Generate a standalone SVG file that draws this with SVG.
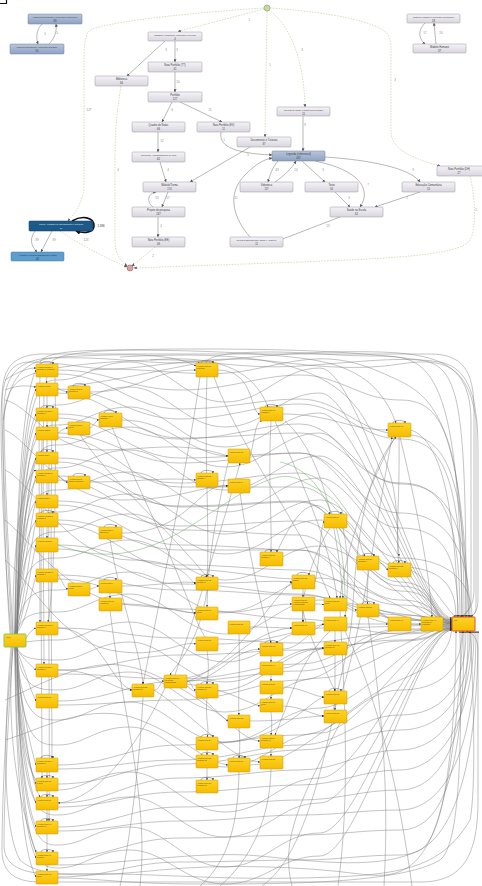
<svg xmlns="http://www.w3.org/2000/svg" width="482" height="886" viewBox="0 0 482 886">
<defs>
<linearGradient id="gBox" x1="0" y1="0" x2="0" y2="1"><stop offset="0" stop-color="#f5f3f7"/><stop offset="1" stop-color="#d9d6df"/></linearGradient>
<linearGradient id="gBlue" x1="0" y1="0" x2="0" y2="1"><stop offset="0" stop-color="#b8c6dc"/><stop offset="1" stop-color="#8fa2c2"/></linearGradient>
<linearGradient id="gYel" x1="0" y1="0" x2="0" y2="1"><stop offset="0" stop-color="#ffd426"/><stop offset="1" stop-color="#f5bc00"/></linearGradient>
<marker id="ah" viewBox="0 0 6 6" refX="5.5" refY="3" markerUnits="userSpaceOnUse" markerWidth="3" markerHeight="3" orient="auto"><path d="M0 0L6 3L0 6z" fill="#555"/></marker>
<marker id="as" viewBox="0 0 6 6" refX="5.5" refY="3" markerUnits="userSpaceOnUse" markerWidth="2" markerHeight="2" orient="auto"><path d="M0 0L6 3L0 6z" fill="#222"/></marker>
<marker id="ak" viewBox="0 0 6 6" refX="5" refY="3" markerUnits="userSpaceOnUse" markerWidth="5" markerHeight="5" orient="auto"><path d="M0 0L6 3L0 6z" fill="#111"/></marker>
</defs>
<style>
.n rect{fill:url(#gBox);stroke:#9a96a2;stroke-width:.5}
.nb rect{fill:url(#gBlue);stroke:#6d7f9c;stroke-width:.5}
.t{font-family:"Liberation Sans",Arial,sans-serif;font-size:2.6px;fill:#3a3a3a;text-anchor:middle}
.ts{font-family:"Liberation Sans",Arial,sans-serif;font-size:2.1px;fill:#3a3a3a;text-anchor:middle}
.tw{font-family:"Liberation Sans",Arial,sans-serif;font-size:2.1px;fill:#e8f0f8;text-anchor:middle}
.el{font-family:"Liberation Sans",Arial,sans-serif;font-size:3px;fill:#8c8c8c;text-anchor:middle}
.e{fill:none;stroke:#707070;stroke-width:.5;marker-end:url(#ah)}
.ed{fill:none;stroke:#c4c4a0;stroke-width:.6;stroke-dasharray:1.6 1.2;marker-end:url(#ah)}
.y rect{fill:url(#gYel);stroke:#c99a00;stroke-width:.5}
.y text{font-family:"Liberation Sans",Arial,sans-serif;font-size:1.9px;fill:#5e4a00}
.lp{fill:none;stroke:#444;stroke-width:.4;marker-end:url(#as)}
.c{fill:none;stroke:#7c7c7c;stroke-width:.45;marker-end:url(#as)}
.cn{fill:none;stroke:#7c7c7c;stroke-width:.45}
.cg{fill:none;stroke:#5aa25a;stroke-width:.45}
</style>
<rect width="482" height="886" fill="#fff"/>
<path d="M0 3.5H6.5V0" fill="none" stroke="#111" stroke-width="1.2"/>

<!-- ===== process map: connectors ===== -->
<g id="map-edges">
<path class="ed" d="M264 9L178 31.5"/>
<path class="ed" d="M267 11L265 137"/>
<path class="ed" d="M269 10C290 25 304 60 305 107"/>
<path class="ed" d="M264 8C200 12 120 20 92 29C86 32 84 40 84 60L84 185C84 200 76 212 68 221"/>
<path class="ed" d="M270 8C330 12 380 22 388 35C392 42 391 50 391 60L391 130C391 145 400 155 440 166"/>
<path class="ed" d="M121 86C117 110 115 130 115 160L115 240C115 255 121 261 127 266"/>
<path class="ed" d="M60 231C80 245 110 260 127 267"/>
<path class="ed" d="M155 247L132 266"/>
<path class="ed" d="M470 176C476 200 476 230 470 240C460 255 400 258 300 262L134 268"/>
<path class="e" d="M42 24C36 30 36 38 38 44"/>
<path class="e" d="M49 44C55 38 57 30 56 24"/>
<path class="e" d="M165 41L127 76"/>
<path class="e" d="M175 41L175 62"/>
<path class="e" d="M175 72L175 92"/>
<path class="e" d="M172 102L162 122"/>
<path class="e" d="M180 102L222 122"/>
<path class="e" d="M158 132L158 152"/>
<path class="e" d="M160 162L166 182"/>
<path class="e" d="M250 147L190 182"/>
<path class="e" d="M221 132C219 145 230 153 272 155"/>
<path class="e" d="M303 116L303 151"/>
<path class="e" d="M278 161C272 168 270 175 268 182"/>
<path class="e" d="M275 182C285 175 292 168 296 161"/>
<path class="e" d="M302 161L325 182"/>
<path class="e" d="M315 161C360 170 372 190 360 207"/>
<path class="e" d="M325 157C370 160 410 168 420 182"/>
<path class="e" d="M335 192L350 207"/>
<path class="e" d="M420 192L375 207"/>
<path class="e" d="M340 217L280 240"/>
<path class="e" d="M250 237C235 220 225 195 245 175C255 165 262 160 272 158"/>
<path class="e" d="M153 207C146 202 148 193 156 192"/>
<path class="e" d="M168 192L162 207"/>
<path class="e" d="M158 217L158 237"/>
<path class="e" d="M35 231C30 238 30 245 37 252"/>
<path class="e" d="M52 231L41 252"/>
<path class="e" d="M425 23C418 30 418 38 425 44"/>
<path class="e" d="M436 44L434 23"/>
<path d="M72 221C82 215 94 217 94 226C94 232 85 234 76 231" fill="none" stroke="#111" stroke-width="1.6" marker-end="url(#ak)"/>
<text class="el" x="249" y="21">1</text>
<text class="el" x="270" y="66">1</text>
<text class="el" x="302" y="51">3</text>
<text class="el" x="89" y="111">127</text>
<text class="el" x="395" y="81">3</text>
<text class="el" x="118" y="171">4</text>
<text class="el" x="86" y="241">123</text>
<text class="el" x="153" y="257">2</text>
<text class="el" x="476" y="211">1</text>
<text class="el" x="45" y="35">5</text>
<text class="el" x="57" y="34">5</text>
<text class="el" x="166" y="51">3</text>
<text class="el" x="177" y="51">3</text>
<text class="el" x="178" y="83">10</text>
<text class="el" x="172" y="111">6</text>
<text class="el" x="210" y="111">11</text>
<text class="el" x="162" y="142">12</text>
<text class="el" x="168" y="171">4</text>
<text class="el" x="248" y="156">5</text>
<text class="el" x="224" y="141">1</text>
<text class="el" x="305" y="126">8</text>
<text class="el" x="277" y="171">43</text>
<text class="el" x="296" y="171">54</text>
<text class="el" x="323" y="171">3</text>
<text class="el" x="368" y="186">7</text>
<text class="el" x="413" y="171">9</text>
<text class="el" x="349" y="199">3</text>
<text class="el" x="407" y="199">2</text>
<text class="el" x="328" y="227">15</text>
<text class="el" x="236" y="199">11</text>
<text class="el" x="157" y="199">53</text>
<text class="el" x="168" y="199">57</text>
<text class="el" x="161" y="227">4</text>
<text class="el" x="37" y="241">39</text>
<text class="el" x="54" y="241">39</text>
<text class="el" x="425" y="34">17</text>
<text class="el" x="441" y="34">20</text>
<text class="el" x="101" y="227" style="fill:#333;font-size:2.8px">1.386</text>
</g>

<!-- ===== process map: nodes ===== -->
<circle id="start" cx="267" cy="8" r="3" fill="#c9d9a2" stroke="#8a9a60" stroke-width=".6"/>
<circle id="end" cx="130" cy="268" r="3" fill="#d9a3a3" stroke="#a06060" stroke-width=".6"/>
<g id="n-mod1" class="nb"><rect x="28" y="14" width="54" height="10" rx="1"/><text class="ts" x="55" y="18.3">Modelos Matemáticos e conteúdos elementares</text><text class="t" x="55" y="22.3">69</text></g>
<g id="n-mod2" class="nb"><rect x="10" y="44" width="54" height="10" rx="1"/><text class="ts" x="37" y="48.3">Modelos Matemáticos: conteúdos aplicados</text><text class="t" x="37" y="52.3">55</text></g>
<g id="n-card" class="n"><rect x="148" y="32" width="54" height="9" rx="1"/><text class="ts" x="175" y="35.8">Cardápio/Atendimento: conteúdos e serviços</text><text class="t" x="175" y="39.6">4</text></g>
<g id="n-bib" class="n"><rect x="95" y="76" width="53" height="10" rx="1"/><text class="t" x="121.5" y="80.3">Biblioteca</text><text class="t" x="121.5" y="84.3">66</text></g>
<g id="n-tt" class="n"><rect x="148" y="62" width="54" height="10" rx="1"/><text class="t" x="175" y="66.3">Nota Portfólio (TT)</text><text class="t" x="175" y="70.3">41</text></g>
<g id="n-port" class="n"><rect x="148" y="92" width="54" height="10" rx="1"/><text class="t" x="175" y="96.3">Portfólio</text><text class="t" x="175" y="100.3">127</text></g>
<g id="n-quad" class="n"><rect x="132" y="122" width="53" height="10" rx="1"/><text class="t" x="158.5" y="126.3">Quadro de Notas</text><text class="t" x="158.5" y="130.3">66</text></g>
<g id="n-ev" class="n"><rect x="197" y="122" width="53" height="10" rx="1"/><text class="t" x="223.5" y="126.3">Nota Portfólio (EV)</text><text class="t" x="223.5" y="130.3">11</text></g>
<g id="n-sist" class="n"><rect x="132" y="152" width="53" height="10" rx="1"/><text class="ts" x="158.5" y="156.3">Sistema de Acompanhamento de TCC</text><text class="t" x="158.5" y="160.3">62</text></g>
<g id="n-turma" class="n"><rect x="143" y="182" width="53" height="10" rx="1"/><text class="t" x="169.5" y="186.3">Módulo/Turma</text><text class="t" x="169.5" y="190.3">174</text></g>
<g id="n-proj" class="n"><rect x="132" y="207" width="53" height="10" rx="1"/><text class="t" x="158.5" y="211.3">Projeto de pesquisa</text><text class="t" x="158.5" y="215.3">167</text></g>
<g id="n-ee" class="n"><rect x="132" y="237" width="53" height="10" rx="1"/><text class="t" x="158.5" y="241.3">Nota Portfólio (EE)</text><text class="t" x="158.5" y="245.3">46</text></g>
<g id="n-doc" class="n"><rect x="237" y="137" width="54" height="10" rx="1"/><text class="t" x="264" y="141.3">Documentos e Tutoriais</text><text class="t" x="264" y="145.3">37</text></g>
<g id="n-pol" class="n"><rect x="277" y="107" width="53" height="9" rx="1"/><text class="ts" x="303.5" y="110.8">Políticas de saúde e assistência estudantil</text><text class="t" x="303.5" y="114.6">11</text></g>
<g id="n-leg" class="nb"><rect x="272" y="151" width="53" height="10" rx="1"/><text class="t" x="298.5" y="155.3">Legenda (referencial)</text><text class="t" x="298.5" y="159.3">437</text></g>
<g id="n-vid" class="n"><rect x="240" y="182" width="53" height="10" rx="1"/><text class="t" x="266.5" y="186.3">Videoteca</text><text class="t" x="266.5" y="190.3">117</text></g>
<g id="n-txt" class="n"><rect x="305" y="182" width="53" height="10" rx="1"/><text class="t" x="331.5" y="186.3">Texto</text><text class="t" x="331.5" y="190.3">50</text></g>
<g id="n-edu" class="n"><rect x="402" y="182" width="53" height="10" rx="1"/><text class="t" x="428.5" y="186.3">Educação Comunitária</text><text class="t" x="428.5" y="190.3">15</text></g>
<g id="n-sau" class="n"><rect x="330" y="207" width="53" height="10" rx="1"/><text class="t" x="356.5" y="211.3">Saúde na Escola</text><text class="t" x="356.5" y="215.3">62</text></g>
<g id="n-rec" class="n"><rect x="230" y="237" width="53" height="10" rx="1"/><text class="ts" x="256.5" y="241.3">Recursos Educacionais: Saúde e Ambiente</text><text class="t" x="256.5" y="245.3">11</text></g>
<g id="n-dh" class="n"><rect x="437" y="166" width="50" height="10" rx="1"/><text class="t" x="459" y="170.3">Nota Portfólio (DH)</text><text class="t" x="459" y="174.3">27</text></g>
<g id="n-hum1" class="n"><rect x="407" y="14" width="53" height="9" rx="1"/><text class="ts" x="433.5" y="17.8">Modelos Humanos e conteúdos elementares</text><text class="t" x="433.5" y="21.6">18</text></g>
<g id="n-hum2" class="n"><rect x="413" y="44" width="53" height="9" rx="1"/><text class="t" x="439.5" y="47.8">Modelo Humano</text><text class="t" x="439.5" y="51.6">37</text></g>
<g id="n-forum"><rect x="29" y="221" width="64" height="10" rx="1" fill="#1d5a8a" stroke="#0f3a60" stroke-width=".5"/><text class="tw" x="61" y="225.3">Fórum: Atividades de aprendizagem e conteúdo</text><text class="tw" x="61" y="229.3">10</text></g>
<g id="n-ativ"><rect x="11" y="252" width="53" height="9" rx="1" fill="#5f9dcc" stroke="#3d78a8" stroke-width=".5"/><text class="ts" x="37.5" y="255.8" style="fill:#14324e">Atividades: Recursos Educativos e Saúde</text><text class="t" x="37.5" y="259.6" style="fill:#14324e">40</text></g>

<!-- ===== activity flow: connectors ===== -->
<g id="flow-edges">
<!-- fan out of the start activity -->
<path class="c" d="M15 634C15 560 20 400 36 370"/>
<path class="c" d="M15 634C15 580 20 420 36 389"/>
<path class="c" d="M15 634C15 590 22 440 36 414"/>
<path class="c" d="M15 634C16 600 24 460 36 433"/>
<path class="c" d="M15 634C16 610 26 480 36 458"/>
<path class="c" d="M15 634C17 615 28 500 36 476"/>
<path class="c" d="M15 634C18 620 30 520 36 501"/>
<path class="c" d="M15 634C20 625 32 540 36 520"/>
<path class="c" d="M15 634C22 628 32 560 36 545"/>
<path class="c" d="M15 634C24 630 32 590 36 575"/>
<path class="c" d="M26 638C30 632 33 629 36 628"/>
<path class="c" d="M15 647C20 655 30 665 36 670"/>
<path class="c" d="M15 647C22 660 30 690 36 701"/>
<path class="c" d="M15 647C18 680 28 740 36 765"/>
<path class="c" d="M15 647C17 690 26 760 36 784"/>
<path class="c" d="M15 647C16 700 26 780 36 803"/>
<path class="c" d="M15 647C16 710 24 800 36 827"/>
<path class="c" d="M15 647C15 720 22 830 36 858"/>
<path class="c" d="M15 647C15 730 20 850 36 877"/>
<path class="c" d="M17 634C20 560 28 470 40 452"/>
<path class="c" d="M13 634C12 560 20 480 36 470"/>
<path class="c" d="M17 647C22 720 30 780 40 797"/>
<path class="c" d="M13 647C8 700 10 780 36 852"/>
<!-- arcs over the top and under the bottom -->
<path class="c" d="M12 634C6 540 2 440 2 400C2 370 10 356 40 354L430 354C462 354 474 370 474 410L474 590C474 605 468 612 462 617"/>
<path class="c" d="M13 634C8 550 4 460 4 410C4 380 14 360 50 358C120 356 150 366 200 362S300 350 380 352C450 354 470 372 471 420L471 600C471 608 466 614 460 617"/>
<path class="c" d="M10 634C5 560 3 480 3 440C3 410 6 390 20 380C40 366 100 362 150 360S240 370 300 366S400 356 440 362C470 368 478 400 478 450L478 600C478 610 474 615 470 617"/>
<path class="c" d="M11 634C4 550 1 470 1 420C1 380 8 362 30 362C70 362 90 372 130 368S220 356 260 360S350 372 400 364C440 358 468 362 476 420L476 610C476 614 472 616 468 617"/>
<path class="c" d="M5 380C20 370 30 368 36 368"/>
<path class="c" d="M5 390C20 384 30 386 36 387"/>
<path class="c" d="M3 420C10 380 20 360 60 357C120 354 170 352 196 366"/>
<path class="c" d="M40 364C40 355 60 350 120 350S250 352 300 358S380 380 396 423"/>
<path class="c" d="M50 364C55 352 100 349 200 349S360 352 420 360C460 366 466 400 466 617"/>
<path class="c" d="M206 363C206 356 230 352 270 352S330 356 380 356C430 356 460 370 462 617"/>
<path class="c" d="M150 360C200 356 250 360 268 407"/>
<path class="c" d="M120 357C250 350 330 360 365 420S395 500 399 556"/>
<path class="c" d="M70 386C120 380 160 370 200 363"/>
<path class="c" d="M90 370C150 366 200 380 250 370S330 350 380 372S460 400 469 617"/>
<path class="c" d="M12 647C6 720 2 800 2 850C2 870 12 882 40 882L420 882C460 882 478 860 478 800L478 650C478 638 472 632 466 631"/>
<path class="c" d="M13 647C8 720 4 800 4 845C4 865 20 875 60 874C150 872 200 880 300 878S440 870 470 820C476 790 474 700 470 631"/>
<path class="c" d="M58 878C100 878 120 884 200 884S400 884 440 860C460 845 462 750 460 631"/>
<path class="c" d="M58 865C120 865 200 850 260 856S380 870 420 850C450 835 456 700 456 631"/>
<path class="c" d="M11 647C3 740 3 830 20 860C40 880 100 876 160 870S300 866 360 874S450 860 463 631"/>
<!-- long waves towards the final activity -->
<path class="c" d="M58 370C110 370 130 390 180 390S260 375 300 375S360 400 400 400C440 400 464 430 464 617"/>
<path class="c" d="M58 374C110 374 130 409 180 409S260 399 300 399S360 434 400 434C440 434 466 460 466 617"/>
<path class="c" d="M58 389C110 389 130 419 180 419S260 404 300 404S360 439 400 439C440 439 462 470 462 617"/>
<path class="c" d="M58 393C110 393 130 438 180 438S260 433 300 433S360 483 400 483C440 483 460 510 460 617"/>
<path class="c" d="M58 414C110 414 130 439 180 439S260 424 300 424S360 484 400 484C440 484 468 510 468 617"/>
<path class="c" d="M58 418C110 418 130 458 180 458S260 453 300 453S360 528 400 528C440 528 458 550 458 617"/>
<path class="c" d="M58 433C110 433 130 463 180 463S260 453 300 453S360 513 400 513C440 513 470 540 470 617"/>
<path class="c" d="M58 437C110 437 130 487 180 487S260 487 300 487S360 567 400 567C440 567 456 585 456 617"/>
<path class="c" d="M58 458C110 458 130 483 180 483S260 473 300 473S360 558 400 558C440 558 472 575 472 617"/>
<path class="c" d="M58 462C110 462 130 507 180 507S260 502 300 502S360 582 400 582S430 622 452 622"/>
<path class="c" d="M58 476C110 476 130 506 180 506S260 501 300 501S360 586 400 586S430 624 452 624"/>
<path class="c" d="M58 480C110 480 130 530 180 530S260 535 300 535S360 620 400 620S430 626 452 626"/>
<path class="c" d="M58 501C110 501 130 526 180 526S260 521 300 521S360 591 400 591S430 620 452 620"/>
<path class="c" d="M58 505C110 505 130 545 180 545S260 550 300 550S360 620 400 620S430 623 452 623"/>
<path class="c" d="M58 520C110 520 130 550 180 550S260 550 300 550S360 600 400 600S430 621 452 621"/>
<path class="c" d="M58 524C110 524 130 569 180 569S260 579 300 579S360 619 400 619S430 625 452 625"/>
<path class="c" d="M58 545C110 545 130 565 180 565S260 570 300 570S360 605 400 605S430 622 452 622"/>
<path class="c" d="M58 549C110 549 130 584 180 584S260 594 300 594S360 624 400 624S430 627 452 627"/>
<path class="c" d="M58 575C110 575 130 590 180 590S260 595 300 595S360 615 400 615S430 623 452 623"/>
<path class="c" d="M58 579C110 579 130 609 180 609S260 619 300 619S360 634 400 634S430 628 452 628"/>
<path class="c" d="M58 628C110 628 130 638 180 638S260 643 300 643S360 633 400 633S430 626 452 626"/>
<path class="c" d="M58 670C110 670 130 655 180 655S260 650 300 650S360 640 400 640S430 629 452 629"/>
<path class="c" d="M58 674C110 674 130 679 180 679S260 664 300 664S360 629 400 629S430 628 452 628"/>
<path class="c" d="M58 701C110 701 130 681 180 681S260 671 300 671S360 641 400 641S430 630 452 630"/>
<path class="c" d="M58 705C110 705 130 700 180 700S260 680 300 680S360 630 400 630S430 629 452 629"/>
<path class="c" d="M58 765C110 765 130 745 180 745S260 735 300 735S360 690 400 690C440 690 462 670 462 631"/>
<path class="c" d="M58 769C110 769 130 760 180 760S260 745 300 745S360 715 400 715C440 715 466 690 466 631"/>
<path class="c" d="M58 784C110 784 130 764 180 764S260 750 300 750S360 730 400 730C440 730 470 700 470 631"/>
<path class="c" d="M58 803C110 803 130 778 180 778S260 770 300 770S360 750 400 750C440 750 472 710 472 631"/>
<path class="c" d="M58 807C110 807 130 792 180 792S260 785 300 785S360 770 400 770C440 770 474 720 474 631"/>
<path class="c" d="M58 827C110 827 130 807 180 807S260 800 300 800S360 790 400 790C440 790 468 740 468 631"/>
<path class="c" d="M58 831C110 831 130 821 180 821S260 815 300 815S360 810 400 810C440 810 476 760 476 631"/>
<path class="c" d="M58 858C110 858 130 838 180 838S260 835 300 835S360 830 400 830C440 830 464 780 464 631"/>
<path class="c" d="M58 877C110 877 130 862 180 862S260 860 300 860S360 855 400 855C440 855 478 800 478 631"/>
<!-- second family of waves out of the start activity -->
<path class="c" d="M17 634C20 380 40 380 58 380C85 380 95 362 130 362S185 402 225 402S280 368 320 368S420 618 452 618"/>
<path class="c" d="M17 634C20 405 40 405 58 405C85 405 95 387 130 387S185 427 225 427S280 393 320 393S420 619 452 619"/>
<path class="c" d="M17 634C20 425 40 425 58 425C85 425 95 407 130 407S185 447 225 447S280 413 320 413S420 620 452 620"/>
<path class="c" d="M17 634C20 445 40 445 58 445C85 445 95 427 130 427S185 467 225 467S280 433 320 433S420 621 452 621"/>
<path class="c" d="M17 634C20 468 40 468 58 468C85 468 95 450 130 450S185 490 225 490S280 456 320 456S420 622 452 622"/>
<path class="c" d="M17 634C20 490 40 490 58 490C85 490 95 472 130 472S185 512 225 512S280 478 320 478S420 622 452 622"/>
<path class="c" d="M17 634C20 512 40 512 58 512C85 512 95 494 130 494S185 534 225 534S280 500 320 500S420 623 452 623"/>
<path class="c" d="M17 634C20 532 40 532 58 532C85 532 95 514 130 514S185 554 225 554S280 520 320 520S420 623 452 623"/>
<path class="c" d="M17 634C20 558 40 558 58 558C85 558 95 540 130 540S185 580 225 580S280 546 320 546S420 624 452 624"/>
<path class="c" d="M17 634C20 590 40 590 58 590C85 590 95 572 130 572S185 612 225 612S280 578 320 578S420 624 452 624"/>
<path class="c" d="M17 634C20 612 40 612 58 612C85 612 95 594 130 594S185 634 225 634S280 600 320 600S420 625 452 625"/>
<path class="c" d="M26 642C40 640 50 640 58 640C85 640 95 622 130 622S185 662 225 662S280 628 320 628S420 625 452 625"/>
<path class="c" d="M17 647C20 660 40 660 58 660C85 660 95 642 130 642S185 682 225 682S280 648 320 648S420 626 452 626"/>
<path class="c" d="M17 647C20 690 40 690 58 690C85 690 95 672 130 672S185 712 225 712S280 678 320 678S420 627 452 627"/>
<path class="c" d="M17 647C20 720 40 720 58 720C85 720 95 702 130 702S185 742 225 742S280 708 320 708S420 628 452 628"/>
<path class="c" d="M17 647C20 745 40 745 58 745C85 745 95 727 130 727S185 767 225 767S280 733 320 733S420 628 452 628"/>
<path class="c" d="M17 647C20 790 40 790 58 790C85 790 95 772 130 772S185 812 225 812S280 778 320 778S420 629 452 629"/>
<path class="c" d="M17 647C20 815 40 815 58 815C85 815 95 797 130 797S185 837 225 837S280 803 320 803S420 629 452 629"/>
<path class="c" d="M17 647C20 845 40 845 58 845C85 845 95 827 130 827S185 867 225 867S280 833 320 833S420 630 452 630"/>
<path class="c" d="M17 647C20 868 40 868 58 868C85 868 95 850 130 850S185 884 225 884S280 856 320 856S420 630 452 630"/>
<!-- waves from the left margin -->
<path class="c" d="M5 400C30 405 50 450 100 450S180 440 228 456"/>
<path class="c" d="M5 430C30 440 60 500 120 500S200 486 228 486"/>
<path class="c" d="M5 470C30 480 70 560 130 560S190 585 196 583"/>
<path class="c" d="M5 520C30 540 70 600 130 605S180 612 196 613"/>
<path class="c" d="M5 560C30 580 60 640 110 650S180 640 196 644"/>
<path class="c" d="M5 700C30 690 80 660 120 665S200 700 228 721"/>
<path class="c" d="M5 740C40 730 90 700 140 720S200 760 228 765"/>
<!-- links between neighbouring activities -->
<path class="c" d="M90 392C140 392 150 370 196 370"/>
<path class="c" d="M90 428C94 426 96 420 99 420"/>
<path class="c" d="M122 420C170 420 190 455 228 456"/>
<path class="c" d="M90 482C140 482 160 477 196 480"/>
<path class="c" d="M122 533C190 533 200 480 228 486"/>
<path class="c" d="M90 589C95 588 97 586 99 586"/>
<path class="c" d="M122 586C160 586 180 580 196 583"/>
<path class="c" d="M122 604C160 604 180 613 196 613"/>
<path class="c" d="M58 389C62 390 65 392 68 392"/>
<path class="c" d="M58 433C62 430 64 428 68 428"/>
<path class="c" d="M58 476C62 478 65 482 68 482"/>
<path class="c" d="M58 575C62 580 64 588 68 589"/>
<path class="c" d="M218 370C255 370 250 414 260 414"/>
<path class="c" d="M250 456C255 440 255 420 262 421"/>
<path class="c" d="M283 414C330 414 350 430 388 430"/>
<path class="c" d="M218 583C250 583 270 580 292 582"/>
<path class="c" d="M218 613C250 613 270 604 292 604"/>
<path class="c" d="M250 627C270 627 280 628 292 628"/>
<path class="c" d="M315 582C320 560 320 530 324 521"/>
<path class="c" d="M315 604C318 604 322 604 324 605"/>
<path class="c" d="M347 521C360 530 360 550 365 556"/>
<path class="c" d="M379 563C384 563 386 568 388 570"/>
<path class="c" d="M347 605C350 606 354 610 357 610"/>
<path class="c" d="M347 624C360 624 375 624 388 624"/>
<path class="c" d="M411 624C415 624 418 624 421 624"/>
<path class="c" d="M443 624C446 624 449 624 452 624"/>
<path class="c" d="M379 610C400 615 440 618 452 620"/>
<path class="c" d="M411 570C430 580 440 600 455 617"/>
<path class="c" d="M411 430C440 440 455 500 458 617"/>
<path class="c" d="M58 628C100 628 110 684 132 690"/>
<path class="c" d="M58 670C100 670 110 690 132 690"/>
<path class="c" d="M154 690C160 690 160 681 164 681"/>
<path class="c" d="M187 681C192 681 192 690 196 690"/>
<path class="c" d="M187 681C220 681 230 650 260 649"/>
<path class="c" d="M187 678C230 670 250 630 292 628"/>
<path class="c" d="M187 684C230 690 240 700 260 706"/>
<path class="c" d="M187 686C220 710 240 740 260 741"/>
<path class="c" d="M187 682C240 660 270 600 292 582"/>
<path class="c" d="M154 690C200 720 230 760 260 762"/>
<path class="c" d="M218 644C260 644 300 630 324 624"/>
<path class="c" d="M218 691C260 691 280 650 324 648"/>
<path class="c" d="M218 743C280 743 310 700 324 697"/>
<path class="c" d="M250 721C290 721 310 716 324 716"/>
<path class="c" d="M250 765C300 765 350 700 400 680S450 640 452 628"/>
<path class="c" d="M283 649C300 649 310 630 324 624"/>
<path class="c" d="M283 668C300 668 310 650 324 648"/>
<path class="c" d="M283 687C300 687 315 697 324 697"/>
<path class="c" d="M283 706C300 706 315 716 324 716"/>
<!-- long vertical runs -->
<path class="c" d="M207 377C204 450 210 540 207 577"/>
<path class="c" d="M271 421C268 480 272 520 271 552"/>
<path class="c" d="M200 377C190 450 160 600 143 684"/>
<path class="cn" d="M340 611C345 700 350 800 338 886"/>
<path class="cn" d="M336 704C320 780 300 860 262 886"/>
<path class="c" d="M399 437C400 500 395 540 399 563"/>
<path class="c" d="M395 437C360 500 345 560 340 598"/>
<path class="cn" d="M110 610C120 700 150 800 140 886"/>
<path class="cn" d="M143 697C140 760 130 840 120 886"/>
<path class="c" d="M175 675C200 600 230 500 240 463"/>
<path class="c" d="M271 566C290 520 310 490 330 514"/>
<path class="c" d="M303 611C310 640 330 680 335 691"/>
<path class="cn" d="M340 723C300 800 280 840 292 886"/>
<path class="c" d="M165 688C140 740 100 800 58 803"/>
<path class="c" d="M330 631C300 660 290 700 275 735"/>
<path class="cn" d="M345 631C380 700 400 800 412 886"/>
<path class="cn" d="M368 617C380 700 390 780 384 886"/>
<path class="c" d="M214 377C240 450 300 520 330 598"/>
<path class="c" d="M275 421C300 480 330 540 337 598"/>
<path class="c" d="M400 437C420 520 430 580 432 617"/>
<path class="c" d="M330 528C310 560 300 600 303 622"/>
<path class="c" d="M343 528C350 560 348 590 345 617"/>
<path class="c" d="M110 540C120 600 140 650 143 684"/>
<path class="c" d="M112 427C130 470 160 530 180 580S205 640 207 637"/>
<path class="c" d="M80 435C110 480 160 520 207 577"/>
<path class="c" d="M207 651C210 670 207 680 207 684"/>
<path class="c" d="M207 698C205 720 210 730 207 737"/>
<path class="c" d="M207 750C207 752 207 753 207 755"/>
<path class="c" d="M207 768C207 772 207 776 207 780"/>
<path class="c" d="M239 634C240 670 238 700 239 715"/>
<path class="c" d="M239 728C240 740 240 750 239 758"/>
<path class="c" d="M271 656C271 658 271 660 271 662"/>
<path class="c" d="M271 675C271 677 271 679 271 681"/>
<path class="c" d="M271 694C271 696 271 697 271 699"/>
<path class="c" d="M271 712C272 720 272 728 271 735"/>
<path class="c" d="M271 748C271 750 271 752 271 756"/>
<path class="c" d="M335 704C335 706 335 708 335 710"/>
<path class="c" d="M335 655C335 670 335 680 335 691"/>
<path class="c" d="M335 631C335 635 335 638 335 642"/>
<path class="c" d="M303 589C303 592 303 594 303 597"/>
<path class="c" d="M303 611C303 615 303 618 303 622"/>
<path class="c" d="M368 570C368 590 366 600 368 604"/>
<path class="c" d="M110 593C110 595 110 596 110 598"/>
<path class="c" d="M207 590C200 640 180 660 170 675"/>
<path class="c" d="M228 463C215 520 208 560 207 607"/>
<path class="c" d="M240 493C250 560 260 600 271 643"/>
<path class="c" d="M285 421C330 460 340 560 343 598"/>
<path class="c" d="M330 723C345 660 350 640 352 617C356 560 360 480 396 437"/>
<path class="c" d="M338 704C360 640 370 560 392 437"/>
<path class="cn" d="M271 769C270 820 250 860 220 886"/>
<path class="cn" d="M239 772C238 820 230 860 200 886"/>
<!-- runs along the left column -->
<path class="c" d="M40 377C38 450 40 550 40 622"/>
<path class="c" d="M44 396C42 500 44 600 44 664"/>
<path class="c" d="M52 421C50 550 52 700 52 758"/>
<path class="c" d="M55 377C57 500 53 600 48 622"/>
<path class="c" d="M42 440C40 560 42 700 42 778"/>
<path class="c" d="M49 464C48 600 50 750 49 821"/>
<path class="c" d="M47 377C46 379 46 381 47 383"/>
<path class="c" d="M47 396C47 400 47 404 47 408"/>
<path class="c" d="M47 421C47 423 47 425 47 427"/>
<path class="c" d="M47 440C47 445 47 448 47 452"/>
<path class="c" d="M47 483C47 488 47 491 47 495"/>
<path class="c" d="M47 527C47 531 47 534 47 538"/>
<path class="c" d="M47 771C47 774 47 776 47 778"/>
<path class="c" d="M47 791C47 793 47 795 47 797"/>
<path class="c" d="M47 810C47 814 47 818 47 821"/>
<path class="c" d="M47 834C47 840 47 846 47 852"/>
<path class="c" d="M47 865C47 867 47 869 47 871"/>
<path class="cg" d="M58 545C100 560 140 560 200 520S280 470 300 480S340 500 343 514"/>
<path class="cg" d="M280 462C320 470 345 520 345 600"/>
</g>

<!-- ===== activity flow: nodes ===== -->
<g id="a-start" class="y"><rect x="4" y="634" width="22" height="13" rx=".8" style="stroke:#86cc4e;stroke-width:1"/><text x="6" y="637.5">Início</text></g>
<g id="a-end" class="y"><rect x="452" y="617" width="23" height="14" rx=".8" style="stroke:#e2512f;stroke-width:1"/><text x="454" y="620.5">Fim</text></g>
<g id="y01" class="y"><rect x="36" y="364" width="22" height="13" rx=".8"/><path class="lp" d="M41 364c0-3.5 12-3.5 12 0"/><text x="37" y="367.5">Acessou Módulo 1 -</text><text x="37" y="369.8">Unidade 1: conteúdo</text></g>
<g id="y02" class="y"><rect x="36" y="383" width="22" height="13" rx=".8"/><text x="37" y="386.5">Acessou Fórum</text></g>
<g id="y03" class="y"><rect x="68" y="386" width="22" height="13" rx=".8"/><path class="lp" d="M73 386c0-3.5 12-3.5 12 0"/><text x="69" y="389.5">Acessou item 2 -</text><text x="69" y="391.8">Unidade 2</text></g>
<g id="y04" class="y"><rect x="36" y="408" width="22" height="13" rx=".8"/><path class="lp" d="M41 408c0-3.5 12-3.5 12 0"/><text x="37" y="411.5">Acessou Módulo 1 -</text><text x="37" y="413.8">Unidade 3</text></g>
<g id="y05" class="y"><rect x="36" y="427" width="22" height="13" rx=".8"/><text x="37" y="430.5">Acessou Tarefa</text></g>
<g id="y06" class="y"><rect x="68" y="422" width="22" height="13" rx=".8"/><text x="69" y="425.5">Acessou item 3 -</text><text x="69" y="427.8">Texto</text></g>
<g id="y07" class="y"><rect x="99" y="413" width="23" height="14" rx=".8"/><path class="lp" d="M104 413c0-3.5 12-3.5 12 0"/><text x="100" y="416.5">Acessou Vídeo</text><text x="100" y="418.8">Unidade 1</text></g>
<g id="y08" class="y"><rect x="36" y="452" width="22" height="12" rx=".8"/><path class="lp" d="M41 452c0-3.5 12-3.5 12 0"/><text x="37" y="455.5">Acessou item 4</text></g>
<g id="y09" class="y"><rect x="36" y="470" width="22" height="13" rx=".8"/><text x="37" y="473.5">Acessou Módulo 2 -</text><text x="37" y="475.8">Unidade 1</text></g>
<g id="y10" class="y"><rect x="68" y="476" width="22" height="13" rx=".8"/><path class="lp" d="M73 476c0-3.5 12-3.5 12 0"/><text x="69" y="479.5">Acessou item 5 -</text><text x="69" y="481.8">Saúde na Escola</text></g>
<g id="y11" class="y"><rect x="36" y="495" width="22" height="13" rx=".8"/><text x="37" y="498.5">Acessou item 6</text></g>
<g id="y12" class="y"><rect x="36" y="513" width="22" height="14" rx=".8"/><path class="lp" d="M41 513c0-3.5 12-3.5 12 0"/><text x="37" y="516.5">Acessou Módulo 2 -</text><text x="37" y="518.8">Unidade 2</text></g>
<g id="y13" class="y"><rect x="99" y="527" width="23" height="12" rx=".8"/><path class="lp" d="M104 527c0-3.5 12-3.5 12 0"/><text x="100" y="530.5">Acessou item 7 -</text><text x="100" y="532.8">Biblioteca</text></g>
<g id="y14" class="y"><rect x="36" y="538" width="22" height="14" rx=".8"/><text x="37" y="541.5">Acessou Portfólio</text></g>
<g id="y15" class="y"><rect x="36" y="569" width="22" height="13" rx=".8"/><text x="37" y="572.5">Acessou Módulo 3 -</text><text x="37" y="574.8">Unidade 1</text></g>
<g id="y16" class="y"><rect x="68" y="583" width="22" height="13" rx=".8"/><text x="69" y="586.5">Acessou item 8 -</text><text x="69" y="588.8">Texto</text></g>
<g id="y17" class="y"><rect x="99" y="580" width="23" height="13" rx=".8"/><path class="lp" d="M104 580c0-3.5 12-3.5 12 0"/><text x="100" y="583.5">Acessou item 9</text></g>
<g id="y18" class="y"><rect x="99" y="598" width="23" height="13" rx=".8"/><text x="100" y="601.5">Acessou item 10 -</text><text x="100" y="603.8">Videoteca</text></g>
<g id="y19" class="y"><rect x="196" y="363" width="22" height="14" rx=".8"/><path class="lp" d="M201 363c0-3.5 12-3.5 12 0"/><text x="197" y="366.5">Acessou item 11 -</text><text x="197" y="368.8">Legenda</text></g>
<g id="y20" class="y"><rect x="196" y="473" width="22" height="14" rx=".8"/><path class="lp" d="M201 473c0-3.5 12-3.5 12 0"/><text x="197" y="476.5">Acessou item 12 -</text><text x="197" y="478.8">Unidade 4</text></g>
<g id="y21" class="y"><rect x="228" y="449" width="22" height="14" rx=".8"/><text x="229" y="452.5">Acessou item 13</text></g>
<g id="y22" class="y"><rect x="228" y="479" width="22" height="14" rx=".8"/><text x="229" y="482.5">Acessou item 14</text></g>
<g id="y23" class="y"><rect x="196" y="577" width="22" height="13" rx=".8"/><path class="lp" d="M201 577c0-3.5 12-3.5 12 0"/><text x="197" y="580.5">Acessou item 15 -</text><text x="197" y="582.8">Unidade 5</text></g>
<g id="y24" class="y"><rect x="196" y="607" width="22" height="13" rx=".8"/><text x="197" y="610.5">Acessou item 16 -</text><text x="197" y="612.8">Texto</text></g>
<g id="y25" class="y"><rect x="260" y="407" width="23" height="14" rx=".8"/><path class="lp" d="M265 407c0-3.5 12-3.5 12 0"/><text x="261" y="410.5">Acessou item 17 -</text><text x="261" y="412.8">Unidade 6</text></g>
<g id="y26" class="y"><rect x="388" y="423" width="23" height="14" rx=".8"/><path class="lp" d="M393 423c0-3.5 12-3.5 12 0"/><text x="389" y="426.5">Acessou item 18</text></g>
<g id="y27" class="y"><rect x="324" y="514" width="23" height="14" rx=".8"/><path class="lp" d="M329 514c0-3.5 12-3.5 12 0"/><text x="325" y="517.5">Acessou item 19</text></g>
<g id="y28" class="y"><rect x="260" y="552" width="23" height="14" rx=".8"/><path class="lp" d="M265 552c0-3.5 12-3.5 12 0"/><text x="261" y="555.5">Acessou item 20 -</text><text x="261" y="557.8">Unidade 7</text></g>
<g id="y29" class="y"><rect x="357" y="556" width="22" height="14" rx=".8"/><path class="lp" d="M362 556c0-3.5 12-3.5 12 0"/><text x="358" y="559.5">Acessou item 21 -</text><text x="358" y="561.8">Unidade 8</text></g>
<g id="y30" class="y"><rect x="388" y="563" width="23" height="14" rx=".8"/><path class="lp" d="M393 563c0-3.5 12-3.5 12 0"/><text x="389" y="566.5">Acessou item 22 -</text><text x="389" y="568.8">Unidade 9</text></g>
<g id="y31" class="y"><rect x="292" y="575" width="23" height="14" rx=".8"/><path class="lp" d="M297 575c0-3.5 12-3.5 12 0"/><text x="293" y="578.5">Acessou item 23 -</text><text x="293" y="580.8">Saúde</text></g>
<g id="y32" class="y"><rect x="292" y="597" width="23" height="14" rx=".8"/><text x="293" y="600.5">Acessou item 24 -</text><text x="293" y="602.8">Ambiente escolar</text><text x="293" y="605.1">e comunidade</text></g>
<g id="y33" class="y"><rect x="324" y="598" width="23" height="13" rx=".8"/><text x="325" y="601.5">Acessou item 25 -</text><text x="325" y="603.8">Texto</text></g>
<g id="y34" class="y"><rect x="357" y="604" width="22" height="13" rx=".8"/><path class="lp" d="M362 604c0-3.5 12-3.5 12 0"/><text x="358" y="607.5">Acessou item 26</text></g>
<g id="y35" class="y"><rect x="36" y="622" width="22" height="13" rx=".8"/><text x="37" y="625.5">Acessou Módulo 3 -</text><text x="37" y="627.8">Unidade 2</text></g>
<g id="y36" class="y"><rect x="36" y="664" width="22" height="13" rx=".8"/><text x="37" y="667.5">Acessou Módulo 4 -</text><text x="37" y="669.8">Unidade 1</text></g>
<g id="y37" class="y"><rect x="36" y="694" width="22" height="14" rx=".8"/><text x="37" y="697.5">Acessou item 27</text></g>
<g id="y38" class="y"><rect x="132" y="684" width="22" height="13" rx=".8"/><text x="133" y="687.5">Acessou item 28 -</text><text x="133" y="689.8">Unidade 10</text></g>
<g id="y39" class="y"><rect x="164" y="675" width="23" height="13" rx=".8"/><text x="165" y="678.5">Acessou item 29 -</text><text x="165" y="680.8">Recursos</text><text x="165" y="683.1">educacionais</text></g>
<g id="y40" class="y"><rect x="196" y="637" width="22" height="14" rx=".8"/><text x="197" y="640.5">Acessou item 30</text></g>
<g id="y41" class="y"><rect x="196" y="684" width="22" height="14" rx=".8"/><path class="lp" d="M201 684c0-3.5 12-3.5 12 0"/><text x="197" y="687.5">Acessou item 31 -</text><text x="197" y="689.8">Unidade 11</text></g>
<g id="y42" class="y"><rect x="228" y="621" width="22" height="13" rx=".8"/><text x="229" y="624.5">Acessou item 32</text></g>
<g id="y43" class="y"><rect x="228" y="715" width="22" height="13" rx=".8"/><text x="229" y="718.5">Acessou item 33</text></g>
<g id="y44" class="y"><rect x="196" y="737" width="22" height="13" rx=".8"/><path class="lp" d="M201 737c0-3.5 12-3.5 12 0"/><text x="197" y="740.5">Acessou item 34</text></g>
<g id="y45" class="y"><rect x="196" y="755" width="22" height="13" rx=".8"/><path class="lp" d="M201 755c0-3.5 12-3.5 12 0"/><text x="197" y="758.5">Acessou item 35 -</text><text x="197" y="760.8">Unidade 12</text></g>
<g id="y46" class="y"><rect x="228" y="758" width="22" height="14" rx=".8"/><path class="lp" d="M233 758c0-3.5 12-3.5 12 0"/><text x="229" y="761.5">Acessou item 36</text></g>
<g id="y47" class="y"><rect x="196" y="780" width="22" height="13" rx=".8"/><path class="lp" d="M201 780c0-3.5 12-3.5 12 0"/><text x="197" y="783.5">Acessou item 37 -</text><text x="197" y="785.8">Unidade 13</text></g>
<g id="y48" class="y"><rect x="36" y="758" width="22" height="14" rx=".8"/><path class="lp" d="M41 758c0-3.5 12-3.5 12 0"/><text x="37" y="761.5">Acessou Módulo 4 -</text><text x="37" y="763.8">Unidade 2</text></g>
<g id="y49" class="y"><rect x="36" y="778" width="22" height="13" rx=".8"/><path class="lp" d="M41 778c0-3.5 12-3.5 12 0"/><text x="37" y="781.5">Acessou item 38 -</text><text x="37" y="783.8">Fórum</text></g>
<g id="y50" class="y"><rect x="36" y="797" width="22" height="13" rx=".8"/><path class="lp" d="M41 797c0-3.5 12-3.5 12 0"/><text x="37" y="800.5">Acessou item 39</text></g>
<g id="y51" class="y"><rect x="36" y="821" width="22" height="13" rx=".8"/><path class="lp" d="M41 821c0-3.5 12-3.5 12 0"/><text x="37" y="824.5">Acessou item 40 -</text><text x="37" y="826.8">Unidade 14</text></g>
<g id="y52" class="y"><rect x="36" y="852" width="22" height="13" rx=".8"/><path class="lp" d="M41 852c0-3.5 12-3.5 12 0"/><text x="37" y="855.5">Acessou item 41 -</text><text x="37" y="857.8">Portfólio</text></g>
<g id="y53" class="y"><rect x="36" y="871" width="22" height="13" rx=".8"/><text x="37" y="874.5">Acessou item 42 -</text><text x="37" y="876.8">Nota</text></g>
<g id="y54" class="y"><rect x="292" y="622" width="23" height="13" rx=".8"/><text x="293" y="625.5">Acessou item 43</text></g>
<g id="y55" class="y"><rect x="324" y="617" width="23" height="14" rx=".8"/><text x="325" y="620.5">Acessou item 44</text></g>
<g id="y56" class="y"><rect x="324" y="642" width="23" height="13" rx=".8"/><text x="325" y="645.5">Acessou item 45 -</text><text x="325" y="647.8">Unidade 15</text></g>
<g id="y57" class="y"><rect x="388" y="617" width="23" height="14" rx=".8"/><text x="389" y="620.5">Acessou item 46</text></g>
<g id="y58" class="y"><rect x="421" y="617" width="22" height="14" rx=".8"/><text x="422" y="620.5">Acessou item 47 -</text><text x="422" y="622.8">Unidade 16:</text><text x="422" y="625.1">avaliação</text></g>
<g id="y59" class="y"><rect x="260" y="643" width="23" height="13" rx=".8"/><path class="lp" d="M265 643c0-3.5 12-3.5 12 0"/><text x="261" y="646.5">Acessou item 48</text></g>
<g id="y60" class="y"><rect x="260" y="662" width="23" height="13" rx=".8"/><text x="261" y="665.5">Acessou item 49</text></g>
<g id="y61" class="y"><rect x="260" y="681" width="23" height="13" rx=".8"/><text x="261" y="684.5">Acessou item 50</text></g>
<g id="y62" class="y"><rect x="260" y="699" width="23" height="13" rx=".8"/><text x="261" y="702.5">Acessou item 51 -</text><text x="261" y="704.8">Texto</text></g>
<g id="y63" class="y"><rect x="324" y="691" width="23" height="13" rx=".8"/><path class="lp" d="M329 691c0-3.5 12-3.5 12 0"/><text x="325" y="694.5">Acessou item 52</text></g>
<g id="y64" class="y"><rect x="324" y="710" width="23" height="13" rx=".8"/><text x="325" y="713.5">Acessou item 53</text></g>
<g id="y65" class="y"><rect x="260" y="735" width="23" height="13" rx=".8"/><text x="261" y="738.5">Acessou item 54 -</text><text x="261" y="740.8">Unidade 17</text></g>
<g id="y66" class="y"><rect x="260" y="756" width="23" height="13" rx=".8"/><text x="261" y="759.5">Acessou item 55</text></g>
</svg>
